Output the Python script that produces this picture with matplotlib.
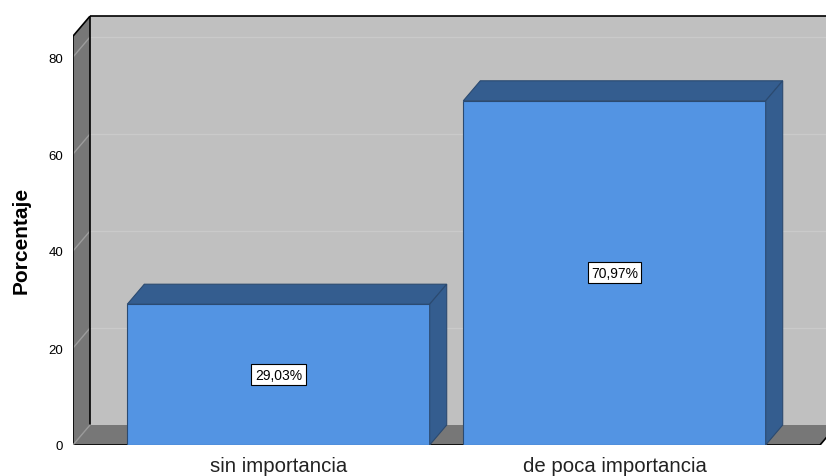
import matplotlib
matplotlib.use("Agg")
import matplotlib.pyplot as plt
from matplotlib.patches import Polygon, Rectangle

categories = ["sin importancia", "de poca importancia"]
percents = [29.03, 70.97]
y_ticks = [0, 20, 40, 60, 80]

plt.rcParams["font.family"] = ["Liberation Sans", "DejaVu Sans"]

W, H = 826, 477
fig = plt.figure(figsize=(W / 100, H / 100), dpi=100)

# axes box in pixels: front left edge x=73, value 0 at y=446
px_x, px_unit_x = 278.5, 336.0      # pixel of category 0, pixels per category
px_y0, px_unit_y = 446.0, 4.85      # pixel of value 0, pixels per percent
left_px, right_px, top_px = 73, 826, 12
ax = fig.add_axes([left_px / W, (H - px_y0) / H,
                   (right_px - left_px) / W, (px_y0 - top_px) / H])
x_lo = (left_px - px_x) / px_unit_x
x_hi = (right_px - px_x) / px_unit_x
ax.set_xlim(x_lo, x_hi)
ax.set_ylim(0, (px_y0 - top_px) / px_unit_y)

# depth offset of the 3D look, in data units
dx = 17 / px_unit_x
dy = 20 / px_unit_y
y_top = 84.3
x_front_r = (820 - px_x) / px_unit_x
x0 = x_lo

wall = "#c0c0c0"
side = "#777777"

# back wall, left wall and floor
ax.add_patch(Rectangle((x0 + dx, dy), x_front_r - x0, y_top, color=wall, lw=0, zorder=1))
ax.add_patch(Polygon([(x0, 0), (x0 + dx, dy), (x0 + dx, y_top + dy), (x0, y_top)],
                     closed=True, color=side, lw=0, zorder=1))
ax.add_patch(Polygon([(x0, 0), (x_front_r, 0), (x_front_r + dx, dy), (x0 + dx, dy)],
                     closed=True, color=side, lw=0, zorder=1))

# grid lines on the walls
for v in y_ticks[1:]:
    ax.plot([x0, x0 + dx], [v, v + dy], color="#9c9c9c", lw=1, zorder=2)
    ax.plot([x0 + dx, x_front_r + dx], [v + dy, v + dy], color="#cacaca", lw=1, zorder=2)

# frame lines
k = dict(color="black", lw=1.2, zorder=3, solid_capstyle="butt")
ax.plot([x0, x0], [0, y_top], **k)
ax.plot([x0, x0 + dx], [y_top, y_top + dy], **k)
ax.plot([x0 + dx, x_front_r + dx], [y_top + dy, y_top + dy], **k)
ax.plot([x0 + dx, x0 + dx], [dy, y_top + dy], **k)
ax.plot([x0, x_front_r], [0, 0], **k)
ax.plot([x_front_r, x_front_r + dx], [0, dy], **k)
ax.plot([x0, x0 + dx], [0, dy], color="#9a9a9a", lw=1, zorder=3)

# bars
bw = 0.9
front = "#5394e3"
dark = "#345d8f"
edge = "#2b4a70"
for i, (cat, p) in enumerate(zip(categories, percents)):
    l, r = i - bw / 2, i + bw / 2
    ax.add_patch(Rectangle((l, 0), bw, p, facecolor=front, edgecolor=edge, lw=0.8, zorder=4))
    ax.add_patch(Polygon([(l, p), (r, p), (r + dx, p + dy), (l + dx, p + dy)],
                         closed=True, facecolor=dark, edgecolor=edge, lw=0.8, zorder=4))
    ax.add_patch(Polygon([(r, 0), (r + dx, dy), (r + dx, p + dy), (r, p)],
                         closed=True, facecolor=dark, edgecolor=edge, lw=0.8, zorder=4))
    ax.text(i, p / 2, f"{p:.2f}%".replace(".", ","), ha="center", va="center",
            fontsize=10, zorder=5,
            bbox=dict(boxstyle="square,pad=0.25", facecolor="white",
                      edgecolor="black", lw=0.8))

for s in ax.spines.values():
    s.set_visible(False)
ax.set_facecolor("none")
ax.set_yticks(y_ticks)
ax.set_xticks(range(len(categories)))
ax.set_xticklabels(categories, fontsize=14.7, color="#222222")
ax.tick_params(axis="y", length=0, pad=7, labelsize=9.5)
ax.tick_params(axis="x", length=0, pad=8)
ax.set_ylabel("Porcentaje", fontsize=15, fontweight="bold")
ax.yaxis.set_label_coords((31 - left_px) / (right_px - left_px),
                          (px_y0 - 240) / (px_y0 - top_px))

fig.savefig("out.png", dpi=100)
